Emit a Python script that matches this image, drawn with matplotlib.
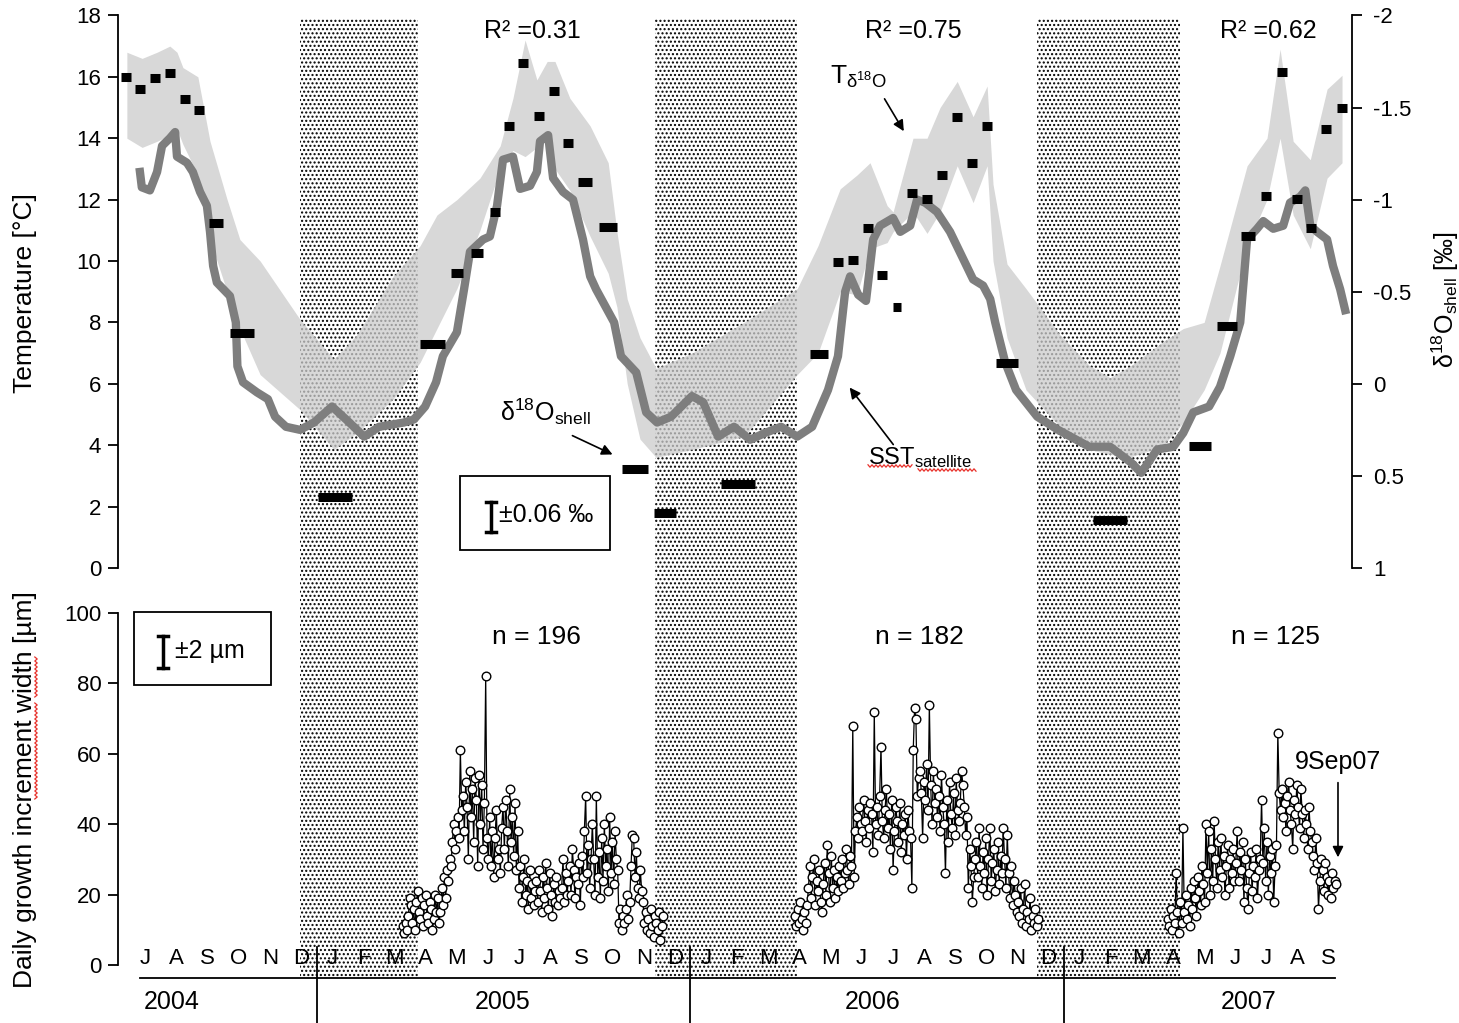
import numpy as np
import matplotlib.pyplot as plt
from matplotlib.patches import Rectangle
from matplotlib.lines import Line2D

plt.rcParams['font.family'] = ['Liberation Sans', 'DejaVu Sans']
plt.rcParams['mathtext.fontset'] = 'custom'
plt.rcParams['mathtext.rm'] = 'Liberation Sans'
plt.rcParams['mathtext.it'] = 'Liberation Sans:italic'
plt.rcParams['axes.unicode_minus'] = False
plt.rcParams['hatch.linewidth'] = 1.0
plt.rcParams['hatch.color'] = 'black'

NARROW = ['Liberation Sans Narrow', 'Liberation Sans', 'DejaVu Sans']

# time axis: months since 1 Jul 2004
# winter periods (dotted)
winter_start = [5.46, 16.86, 29.14]
winter_end = [9.25, 21.43, 33.73]

# satellite SST (deg C)
sst_x = [0.32, 0.38, 0.64, 0.87, 1.03, 1.28, 1.45, 1.51, 1.83, 2.02, 2.25, 2.47, 2.57, 2.67, 2.79,
         3.21, 3.40, 3.45, 3.63, 4.08, 4.43, 4.66, 5.01, 5.46, 5.91, 6.49, 6.94, 7.52, 8.00, 8.80,
         9.12, 9.48, 9.83, 10.05, 10.50, 10.73, 10.92, 11.34, 11.56, 11.79, 11.98, 12.30, 12.53,
         12.85, 13.07, 13.17, 13.43, 13.59, 13.91, 14.23, 14.55, 14.78, 14.97, 15.55, 15.77, 16.26,
         16.58, 16.93, 17.38, 18.05, 18.41, 18.89, 19.40, 19.92, 20.40, 20.91, 21.43, 21.91, 22.42,
         22.74, 22.97, 23.13, 23.39, 23.64, 23.87, 24.09, 24.51, 24.74, 25.06, 25.28, 25.54, 25.92,
         26.34, 26.76, 27.08, 27.40, 27.63, 27.79, 28.11, 28.46, 29.14, 29.81, 30.81, 31.48, 32.16,
         32.48, 32.99, 33.51, 33.83, 34.15, 34.66, 35.01, 35.34, 35.66, 35.88, 36.20, 36.40, 36.72,
         37.04, 37.26, 37.59, 37.75, 37.91, 38.13, 38.45, 38.64, 38.87, 39.03]
sst_t = [12.9, 12.4, 12.3, 12.9, 13.75, 14.0, 14.2, 13.4, 13.2, 12.9, 12.25, 11.8, 10.95, 9.84, 9.3,
         8.86, 8.0, 6.57, 6.05, 5.72, 5.5, 4.93, 4.6, 4.5, 4.74, 5.26, 4.84, 4.28, 4.6, 4.74,
         4.84, 5.26, 6.05, 6.9, 7.68, 9.08, 10.3, 10.7, 10.8, 11.8, 13.3, 13.4, 12.35,
         12.45, 12.9, 13.9, 14.1, 12.7, 12.25, 12.0, 10.7, 9.5, 9.08, 8.0, 6.9, 6.37,
         5.07, 4.74, 4.93, 5.6, 5.4, 4.28, 4.6, 4.18, 4.4, 4.6, 4.28, 4.6, 5.8,
         6.9, 9.0, 9.5, 8.9, 8.7, 10.7, 11.15, 11.4, 10.95, 11.15, 12.0, 11.9, 11.6,
         10.95, 10.07, 9.4, 9.2, 8.76, 8.0, 6.7, 5.8, 4.93, 4.5, 3.95, 3.95, 3.43,
         3.1, 3.86, 3.95, 4.4, 5.07, 5.26, 5.9, 6.9, 8.0, 10.7, 11.05, 11.3, 11.05,
         11.15, 11.9, 12.1, 12.3, 11.15, 10.95, 10.7, 9.84, 9.08, 8.4]

# temperature range reconstructed from shell d18O
band_x = [-0.10, 0.39, 0.87, 1.28, 1.51, 1.70, 2.18, 2.57, 3.12, 3.53, 4.18, 5.46, 6.55, 7.29,
          8.45, 9.32, 9.86, 10.50, 11.24, 11.89, 12.30, 12.69, 13.07, 13.40, 13.65, 14.13, 14.78,
          15.36, 15.64, 15.97, 16.38, 16.90, 18.05, 19.72, 21.43, 22.10, 22.81, 23.35, 23.77,
          24.32, 24.51, 25.15, 25.60, 26.02, 26.57, 27.08, 27.53, 27.72, 28.17, 28.78, 29.87,
          30.81, 31.48, 32.16, 33.15, 33.83, 34.50, 35.01, 35.88, 36.52, 36.94, 37.36, 37.91,
          38.45, 38.93]
band_hi = [16.8, 16.6, 16.8, 17.0, 16.8, 16.3, 16.0, 13.9, 12.0, 10.7, 10.0, 8.1, 6.8, 7.6,
           9.5, 10.5, 11.5, 12.0, 12.7, 13.75, 15.3, 17.2, 15.9, 16.5, 16.5, 15.3, 14.4,
           13.2, 10.95, 8.76, 7.5, 6.5, 7.0, 8.0, 9.1, 10.5, 12.35, 12.8, 13.2,
           11.8, 11.6, 14.0, 14.0, 15.0, 15.85, 14.7, 15.7, 12.5, 9.9, 9.1, 7.6,
           6.6, 6.2, 6.6, 7.35, 7.8, 8.0, 9.84, 13.1, 14.0, 16.9, 13.9, 13.3,
           15.6, 16.05]
band_lo = [14.0, 13.7, 13.9, 14.1, 14.3, 13.8, 12.8, 10.7, 9.0, 7.8, 6.3, 5.16, 3.86, 4.4,
           5.5, 6.7, 7.8, 9.1, 11.0, 13.0, 13.6, 13.4, 13.7, 14.2, 13.0, 12.3, 10.8,
           9.6, 8.5, 6.0, 4.2, 3.6, 3.86, 4.28, 6.3, 7.0, 9.0, 8.9, 10.4,
           10.6, 10.95, 11.6, 10.9, 11.6, 13.1, 11.9, 13.1, 10.0, 7.5, 5.8, 4.6,
           3.86, 3.7, 3.63, 3.95, 4.74, 5.8, 7.0, 10.5, 12.0, 14.0, 11.5, 10.4,
           12.7, 13.2]

# shell d18O samples (permil), sample centre and time span in months
d18o_x = [-0.13, 0.32, 0.80, 1.28, 1.77, 2.22, 2.76, 3.60, 6.59, 9.73, 10.50, 11.15, 11.73,
          12.18, 12.63, 13.14, 13.62, 14.07, 14.62, 15.36, 16.22, 17.19, 19.53, 22.13, 22.74,
          23.23, 23.71, 24.16, 24.64, 25.12, 25.60, 26.08, 26.57, 27.05, 27.53, 28.17, 31.48,
          34.37, 35.24, 35.91, 36.49, 37.01, 37.49, 37.94, 38.42, 38.93]
d18o_val = [-1.666, -1.60, -1.66, -1.687, -1.546, -1.486, -0.873, -0.276, 0.614, -0.217, -0.602,
            -0.71, -0.933, -1.40, -1.742, -1.454, -1.59, -1.307, -1.096, -0.851, 0.462, 0.70,
            0.544, -0.162, -0.661, -0.672, -0.846, -0.59, -0.417, -1.036, -1.003, -1.133, -1.449,
            -1.198, -1.40, -0.113, 0.74, 0.338, -0.314, -0.803, -1.02, -1.693, -1.003, -0.846,
            -1.384, -1.497]
d18o_span = [0.32, 0.32, 0.32, 0.32, 0.32, 0.32, 0.45, 0.77, 1.09, 0.80, 0.39, 0.39, 0.32,
             0.32, 0.32, 0.32, 0.32, 0.32, 0.45, 0.58, 0.84, 0.71, 1.09, 0.58, 0.32,
             0.32, 0.32, 0.32, 0.26, 0.32, 0.32, 0.32, 0.32, 0.32, 0.32, 0.71, 1.09,
             0.71, 0.64, 0.45, 0.32, 0.32, 0.32, 0.32, 0.32, 0.32]

# daily growth increment widths (um), first and last day of each growth season
gw_2005_span = (8.77, 17.12)
gw_2005 = [11, 9, 12, 10, 14, 19, 17, 12, 16, 10, 18, 21, 15, 13, 19, 11, 17, 20, 14, 12, 18, 16, 10, 13, 20, 15, 19, 12,
           15, 22, 17, 25, 19, 27, 24, 30, 28,
           35, 40, 33, 38, 42, 36, 61, 44,
           48, 38, 52, 45, 30, 55, 42, 50, 35, 53, 47, 28, 54, 40, 51, 33, 46,
           82, 36,
           30, 42, 28, 38, 25, 36, 44, 30, 33,
           26, 39, 45, 33, 47, 38, 28, 50, 35, 42, 31, 46, 27, 38,
           22, 28, 18, 25, 30, 20, 24, 16, 27, 19, 23, 17, 21,
           24, 18, 27, 21, 15, 25, 19, 29, 22, 16, 26, 20, 14, 23, 18, 25, 17, 21, 19,
           22, 30, 18, 26, 20, 24, 28, 20, 33, 27, 19, 25, 23, 29, 17, 31, 25, 38, 48,
           26, 34, 22, 30, 40, 30, 20, 48, 25, 32, 19,
           36, 24, 40, 28, 33, 21, 42, 26, 35, 23, 38, 30, 27, 12, 16,
           10, 14, 12, 16, 20, 13, 18, 28, 37, 36, 25, 32, 22, 19, 27,
           21, 18, 12, 15, 10, 13, 9, 16, 11, 8, 14, 12, 10, 15, 7, 11, 14]
gw_2006_span = (21.36, 29.17)
gw_2006 = [14, 11, 16, 12, 18, 13, 10, 15, 12, 17,
           22, 28, 19, 25, 30, 17, 24, 21, 27, 18,
           15, 23, 29, 20, 34, 26, 18, 31, 22, 27, 19, 25, 21, 28,
           24, 30, 22, 26, 33, 27, 23, 31, 28,
           68, 25, 38,
           42, 36, 45, 40, 38, 47, 41, 35, 44, 39, 46, 43,
           32, 72, 40, 45, 37, 48,
           62, 41, 36, 44, 50, 39, 43, 33, 47,
           27, 38, 45, 41, 35, 46, 32, 40, 37, 43, 30, 44, 38, 36, 22,
           61, 73, 70, 48, 53,
           55, 49, 36, 52, 47, 57, 44, 74, 51, 40, 55, 46, 50,
           42, 48, 38, 54, 45, 40, 26, 47, 35, 52, 43, 39, 49, 37, 53, 44, 41, 46, 55,
           51, 45, 37, 42, 22, 33, 28, 18, 25, 30,
           35, 25, 39, 28, 22, 32, 26, 36, 20, 30, 39, 24, 29, 33, 21, 27, 35, 23, 31, 26,
           39, 30, 22, 37, 26, 19, 28, 17, 24, 20, 15,
           18, 14, 22, 12, 16, 23, 11, 15, 13, 19, 10, 14, 12, 16, 11, 13]
gw_2007_span = (33.34, 38.74)
gw_2007 = [13, 11, 16, 10, 14, 12, 26, 15, 9,
           18, 12, 39, 15, 20, 13, 17, 11, 22,
           16, 24, 19, 14, 25, 21, 17, 28, 23, 18,
           40, 26, 38, 20, 33, 24, 41, 30, 22, 35, 27,
           36, 25, 31, 20, 28, 34, 22, 30, 26, 33, 24,
           29, 38, 24, 32, 27, 35, 18, 30, 22, 16, 26,
           32, 21, 28, 25, 33, 19, 27, 30,
           47, 29, 39, 24, 35, 20, 31, 26, 33,
           18, 28, 34, 66, 49, 44,
           50, 42, 46, 38, 48, 52, 44, 40, 33, 47, 43,
           51, 45, 39, 50, 43, 36, 44, 40, 33, 45, 38,
           35, 31, 27, 36, 29, 16, 24, 30, 27,
           21, 29, 25, 20, 24, 19, 26, 22, 24, 23]

r2_labels = ['R² =0.31', 'R² =0.75', 'R² =0.62']
r2_x = [12.94, 25.15, 36.56]
n_labels = ['n = 196', 'n = 182', 'n = 125']
n_x = [13.07, 25.35, 36.78]

month_letters = list('JASOND') + list('JFMAMJJASOND') * 2 + list('JFMAMJJAS')
years = ['2004', '2005', '2006', '2007']
year_x = [1.35, 11.98, 23.84, 35.92]
year_breaks = [6, 18, 30]

XMIN, XMAX = -0.385, 39.25
W, H = 1459, 1023

fig = plt.figure(figsize=(W / 100, H / 100), dpi=100)


def px_axes(left, top, right, bottom):
    return fig.add_axes([left / W, 1 - bottom / H, (right - left) / W, (bottom - top) / H])


def squiggle(x0, x1, y, vertical=False):
    # red spell-check underline, in figure pixels
    t = np.arange(x0, x1 + 0.1, 2.0)
    w = y + np.where(np.arange(len(t)) % 2 == 0, -1.2, 1.2)
    if vertical:
        xs, ys = w, t
    else:
        xs, ys = t, w
    fig.add_artist(Line2D(np.asarray(xs) / W, 1 - np.asarray(ys) / H, transform=fig.transFigure,
                          color='#e8302a', lw=0.9))


# background axes carrying the winter shading and the month/year axis
ax_bg = px_axes(118, 18, 1352, 978)
ax_bg.set_xlim(XMIN, XMAX)
ax_bg.set_ylim(0, 1)
ax_bg.axis('off')
for a, b in zip(winter_start, winter_end):
    ax_bg.add_patch(Rectangle((a, 0), b - a, 1, facecolor='none', edgecolor='black',
                              hatch='....', lw=0))
for k, letter in enumerate(month_letters):
    ax_bg.text(k + 0.5, 0.0208, letter, ha='center', va='center', fontsize=16, family=NARROW)
ax_bg.plot([0.32, 38.7], [0, 0], color='black', lw=1.3, clip_on=False)
for b in year_breaks:
    ax_bg.plot([b, b], [0.0323, -0.05], color='black', lw=1.3, clip_on=False)
for yx, yl in zip(year_x, years):
    ax_bg.text(yx, -0.025, yl, ha='center', va='center', fontsize=18, family=NARROW)

# --- top panel: temperatures and d18O
ax1 = px_axes(118, 15.4, 1352, 568)
ax1.set_facecolor('none')
ax1.set_xlim(XMIN, XMAX)
ax1.set_ylim(0, 18)
ax1.fill_between(band_x, band_lo, band_hi, color='#cbcbcb', alpha=0.75, lw=0, zorder=1)
ax1.plot(sst_x, sst_t, color='#7e7e7e', lw=6.0, solid_joinstyle='round', zorder=2)
ax1.set_yticks(range(0, 19, 2))
ax1.set_xticks([])
for s in ['top', 'bottom', 'right']:
    ax1.spines[s].set_visible(False)
ax1.spines['left'].set_linewidth(1.3)
ax1.tick_params(axis='y', direction='out', length=7, width=1.3, labelsize=16, pad=5)

ax1r = ax1.twinx()
ax1r.set_zorder(ax1.get_zorder() + 1)
ax1r.set_ylim(1, -2)
ax1r.set_xlim(XMIN, XMAX)
d_x = np.array(d18o_x)
d_w = np.array(d18o_span)
ax1r.hlines(d18o_val, d_x - d_w / 2, d_x + d_w / 2, color='black', lw=6.5, capstyle='butt')
ax1r.set_yticks([-2, -1.5, -1, -0.5, 0, 0.5, 1])
ax1r.set_yticklabels(['-2', '-1.5', '-1', '-0.5', '0', '0.5', '1'])
for s in ['top', 'bottom', 'left']:
    ax1r.spines[s].set_visible(False)
ax1r.spines['right'].set_linewidth(1.3)
ax1r.tick_params(axis='y', direction='out', length=7, width=1.3, labelsize=16, pad=8)
for lab in ax1r.get_yticklabels():
    lab.set_family(NARROW)

for xx, lab in zip(r2_x, r2_labels):
    ax1.text(xx, 17.5, lab, ha='center', va='center', fontsize=18)

ax1.annotate('', xy=(24.9, 14.15), xytext=(24.19, 15.36),
             arrowprops=dict(arrowstyle='-|>', color='black', lw=1.2, mutation_scale=16))
ax1.text(23.39, 16.0, r'T$_{\mathregular{\delta^{18}O}}$', ha='center', va='center', fontsize=19)
ax1.annotate('', xy=(15.58, 3.66), xytext=(14.13, 4.35),
             arrowprops=dict(arrowstyle='-|>', color='black', lw=1.2, mutation_scale=16))
ax1.text(13.33, 5.1, r'$\mathregular{\delta^{18}O_{shell}}$', ha='center', va='center', fontsize=18)
ax1.annotate('', xy=(23.06, 5.95), xytext=(24.57, 3.95),
             arrowprops=dict(arrowstyle='-|>', color='black', lw=1.2, mutation_scale=16))
ax1.text(25.36, 3.6, r'SST$_{\mathregular{satellite}}$', ha='center', va='center', fontsize=17,
         family=NARROW)

# precision box for d18O
ax1.add_patch(Rectangle((0.277, 0.0326), 0.122, 0.134, transform=ax1.transAxes,
                        facecolor='white', edgecolor='black', lw=1.3, zorder=3))
for seg in [([0.302, 0.302], [0.119, 0.065]), ([0.298, 0.306], [0.119, 0.119]),
            ([0.298, 0.306], [0.065, 0.065])]:
    ax1.add_line(Line2D(seg[0], seg[1], transform=ax1.transAxes, color='black', lw=2.5, zorder=4))
ax1.text(0.309, 0.096, '±0.06 ‰', transform=ax1.transAxes, ha='left', va='center',
         fontsize=18, zorder=4)

# --- bottom panel: daily growth increments
ax2 = px_axes(118, 613, 1352, 965)
ax2.set_facecolor('none')
ax2.set_xlim(XMIN, XMAX)
ax2.set_ylim(0, 100)
for span, vals in [(gw_2005_span, gw_2005), (gw_2006_span, gw_2006), (gw_2007_span, gw_2007)]:
    days = np.linspace(span[0], span[1], len(vals))
    ax2.plot(days, vals, '-o', color='black', lw=0.9, ms=6.2, mfc='white', mec='black', mew=1.0)
ax2.set_yticks(range(0, 101, 20))
ax2.set_xticks([])
for s in ['top', 'bottom', 'right']:
    ax2.spines[s].set_visible(False)
ax2.spines['left'].set_linewidth(1.3)
ax2.tick_params(axis='y', direction='out', length=7, width=1.3, labelsize=16, pad=5)

for xx, lab in zip(n_x, n_labels):
    ax2.text(xx, 93.2, lab, ha='center', va='center', fontsize=19)

ax2.add_patch(Rectangle((0.013, 0.795), 0.111, 0.208, transform=ax2.transAxes,
                        facecolor='white', edgecolor='black', lw=1.3, zorder=3, clip_on=False))
for seg in [([0.0365, 0.0365], [0.935, 0.844]), ([0.0325, 0.0405], [0.935, 0.935]),
            ([0.0325, 0.0405], [0.844, 0.844])]:
    ax2.add_line(Line2D(seg[0], seg[1], transform=ax2.transAxes, color='black', lw=2.5, zorder=4))
ax2.text(0.046, 0.892, '±2 µm', transform=ax2.transAxes, ha='left', va='center',
         fontsize=18, zorder=4)

ax2.annotate('', xy=(38.8, 29.8), xytext=(38.8, 52.6),
             arrowprops=dict(arrowstyle='-|>', color='black', lw=1.2, mutation_scale=16))
ax2.text(38.8, 57.7, '9Sep07', ha='center', va='center', fontsize=18)

# axis titles
fig.text(25 / W, 1 - 293 / H, 'Temperature [°C]', rotation=90, ha='center', va='center', fontsize=19)
fig.text(25 / W, 1 - 790 / H, 'Daily growth increment width [µm]', rotation=90,
         ha='center', va='center', fontsize=19)
fig.text(1445 / W, 1 - 300 / H, r'$\mathregular{\delta^{18}O_{shell}}$ [‰]', rotation=90,
         ha='center', va='center', fontsize=18)

# spell-check underlines
squiggle(868, 913, 466)
squiggle(918, 977, 470)
squiggle(657, 697, 36, vertical=True)
squiggle(703, 800, 36, vertical=True)

fig.savefig('out.png', dpi=100, facecolor='white')
